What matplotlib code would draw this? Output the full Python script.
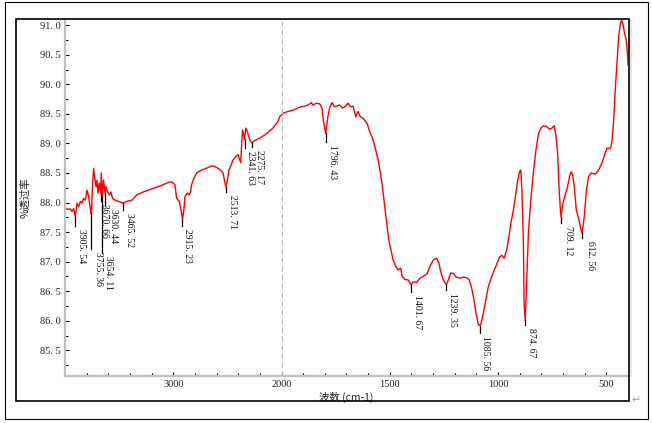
import numpy as np
import matplotlib
matplotlib.use('Agg')
import matplotlib.pyplot as plt
from matplotlib.patches import Rectangle
from matplotlib.ticker import FuncFormatter

# spectrum (wavenumber cm-1, %T)
wavenumber = [
    3998, 3950, 3935, 3920, 3905, 3889, 3874, 3858, 3843, 3828, 3812, 3797,
    3782, 3766, 3756, 3745, 3736, 3727, 3714, 3705, 3696, 3684, 3671, 3665,
    3654, 3644, 3630, 3622, 3607, 3589, 3576, 3561, 3536, 3506, 3465, 3429,
    3383, 3337, 3276, 3214, 3122, 3046, 3015, 2984, 2969, 2945, 2923, 2915,
    2902, 2892, 2871, 2853, 2840, 2831, 2810, 2785, 2739, 2693, 2647, 2616,
    2570, 2540, 2524, 2514, 2503, 2485, 2448, 2417, 2402, 2386, 2377, 2368,
    2360, 2342, 2330, 2316, 2294, 2275, 2248, 2202, 2141, 2080, 2034, 2018,
    1994, 1971, 1948, 1925, 1909, 1894, 1878, 1862, 1855, 1839, 1824, 1813,
    1809, 1802, 1796, 1792, 1786, 1778, 1767, 1755, 1731, 1719, 1708, 1693,
    1682, 1670, 1657, 1647, 1636, 1624, 1605, 1593, 1577, 1565, 1554, 1546,
    1538, 1528, 1520, 1512, 1505, 1495, 1485, 1472, 1462, 1450, 1443, 1431,
    1415, 1402, 1392, 1376, 1361, 1346, 1327, 1315, 1299, 1284, 1273, 1265,
    1253, 1239, 1230, 1219, 1207, 1194, 1176, 1161, 1145, 1133, 1122, 1111,
    1102, 1091, 1085, 1079, 1068, 1057, 1045, 1029, 1014, 994, 983, 972,
    960, 952, 941, 929, 918, 909, 901, 895, 890, 883, 880, 875,
    867, 860, 849, 836, 825, 813, 802, 790, 774, 762, 751, 741,
    733, 725, 718, 710, 700, 690, 679, 670, 663, 656, 648, 639,
    628, 617, 612, 602, 592, 582, 571, 551, 536, 520, 508, 497,
    481, 474, 466, 458, 450, 443, 435, 430, 422, 416, 408, 403, 400,
]
transmittance = [
    87.89, 87.89, 87.85, 87.90, 87.76, 87.99, 87.93, 88.02, 87.99, 88.07, 88.04, 88.21,
    88.10, 87.90, 87.80, 88.33, 88.58, 88.44, 88.27, 88.38, 88.16, 88.33, 88.16, 88.50,
    88.10, 88.38, 88.16, 88.27, 88.18, 88.13, 88.18, 88.07, 88.04, 88.02, 87.99, 88.02,
    88.04, 88.13, 88.18, 88.22, 88.28, 88.34, 88.35, 88.30, 88.07, 88.02, 87.82, 87.71,
    87.88, 88.10, 88.16, 88.13, 88.18, 88.30, 88.41, 88.50, 88.55, 88.58, 88.62, 88.61,
    88.56, 88.50, 88.35, 88.27, 88.35, 88.55, 88.72, 88.79, 88.81, 88.72, 88.68, 89.00,
    89.23, 89.07, 89.26, 89.20, 89.06, 89.01, 89.05, 89.09, 89.16, 89.26, 89.37, 89.45,
    89.51, 89.54, 89.56, 89.60, 89.62, 89.63, 89.65, 89.69, 89.65, 89.68, 89.67, 89.60,
    89.45, 89.28, 89.17, 89.28, 89.45, 89.60, 89.69, 89.62, 89.65, 89.60, 89.62, 89.68,
    89.62, 89.63, 89.45, 89.54, 89.45, 89.43, 89.34, 89.20, 89.06, 88.89, 88.72, 88.55,
    88.38, 88.08, 87.82, 87.59, 87.37, 87.20, 87.03, 86.92, 86.86, 86.89, 86.75, 86.70,
    86.69, 86.61, 86.66, 86.65, 86.72, 86.75, 86.80, 86.92, 87.03, 87.06, 86.97, 86.83,
    86.69, 86.61, 86.69, 86.81, 86.80, 86.74, 86.72, 86.74, 86.73, 86.69, 86.55, 86.35,
    86.13, 85.93, 85.92, 85.95, 86.13, 86.35, 86.58, 86.75, 86.89, 87.07, 87.11, 87.06,
    87.20, 87.37, 87.65, 87.88, 88.16, 88.38, 88.52, 88.55, 88.21, 87.31, 86.30, 86.01,
    86.75, 87.48, 88.04, 88.55, 88.89, 89.17, 89.26, 89.30, 89.28, 89.24, 89.26, 89.30,
    89.14, 88.83, 88.21, 87.76, 87.99, 88.13, 88.27, 88.44, 88.52, 88.48, 88.27, 87.88,
    87.73, 87.54, 87.48, 87.76, 88.21, 88.44, 88.50, 88.48, 88.55, 88.67, 88.81, 88.92,
    88.92, 89.03, 89.40, 89.96, 90.41, 90.81, 91.03, 91.09, 91.00, 90.86, 90.75, 90.55, 90.33,
]

# peak labels
peak_wn = [3905.54, 3755.36, 3670.66, 3654.11, 3630.44, 3465.52, 2915.23, 2513.71,
           2341.63, 2275.17, 1796.43, 1401.67, 1239.35, 1085.56, 874.67, 709.12, 612.56]
peak_top = [87.76, 87.82, 88.16, 88.10, 88.16, 87.99, 87.71, 88.27,
            89.07, 89.01, 89.17, 86.61, 86.61, 85.92, 86.01, 87.76, 87.48]
# layout for the label stems (end of stem in %T) and text x offsets (px)
stem_end = [87.60, 87.22, 88.03, 87.15, 87.94, 87.88, 87.60, 88.18,
            88.92, 88.94, 89.03, 86.49, 86.52, 85.79, 85.93, 87.66, 87.40]
text_dx = [2, 3, -1, 2, 4, 2, 1, 2, 1, 3, 2, 2, 2, 1, 2, 3, 4]

x_major = [3000, 2000, 1500, 1000, 500]
x_minor = [3800, 3600, 3400, 3200, 2800, 2600, 2400, 2200,
           1900, 1800, 1700, 1600, 1400, 1300, 1200, 1100,
           900, 800, 700, 600]
y_major = np.arange(85.5, 91.01, 0.5)
y_minor = np.arange(85.25, 91.1, 0.5)


def fwd(x):
    x = np.asarray(x, dtype=float)
    return np.where(x > 2000, 2000 + (x - 2000) / 2, x)


def inv(u):
    u = np.asarray(u, dtype=float)
    return np.where(u > 2000, 2000 + (u - 2000) * 2, u)


W, H = 652, 423
fig = plt.figure(figsize=(W / 100, H / 100), dpi=100)
ax = fig.add_axes([65 / W, 1 - 376 / H, 563 / W, (376 - 19.3) / H])

ax.set_xscale('function', functions=(fwd, inv))
ax.set_xlim(4000, 400)
ax.set_ylim(85.066, 91.10)

ax.plot(wavenumber, transmittance, color='#ff0000', lw=1.0)
ax.axvline(2000, color='#b4b4b4', lw=0.9, ls=(0, (4, 3)))

num_font = dict(family='Liberation Serif', size=7)
for wn, top, end, dx in zip(peak_wn, peak_top, stem_end, text_dx):
    ax.plot([wn, wn], [top, end], color='black', lw=0.9)
    ax.annotate(f"{wn:.2f}".replace('.', '. '), xy=(wn, end),
                xytext=(dx, -3), textcoords='offset pixels',
                rotation=270, ha='left', va='top', color='#111111', **num_font)

ax.set_xticks(x_major)
ax.set_xticks(x_minor, minor=True)
ax.set_yticks(y_major)
ax.set_yticks(y_minor, minor=True)
ax.xaxis.set_major_formatter(FuncFormatter(lambda v, p: f"{v:.0f}"))
ax.yaxis.set_major_formatter(FuncFormatter(lambda v, p: f"{v:.1f}".replace('.', '. ')))
ax.tick_params(which='both', direction='in', color='black', width=0.8,
               labelsize=7.5, labelcolor='#222222')
ax.tick_params(which='major', length=3)
ax.tick_params(which='minor', length=2)
ax.tick_params(axis='y', pad=3)
ax.tick_params(axis='x', pad=3)
for lab in ax.get_xticklabels() + ax.get_yticklabels():
    lab.set_family('Liberation Serif')

for side in ['top', 'right']:
    ax.spines[side].set_visible(False)
for side in ['left', 'bottom']:
    ax.spines[side].set_color('#c0c0c0')
    ax.spines[side].set_linewidth(1.6)

cjk = ['Noto Sans CJK SC', 'DejaVu Sans']
ax.set_xlabel('波数 (cm-1)', family=cjk, fontsize=7.5, color='#222222', labelpad=2)
ax.set_ylabel('%透过率', family=cjk, fontsize=7.5, color='#222222', labelpad=7)

# page frames around the chart
fig.add_artist(Rectangle((16 / W, 1 - 401 / H), 613 / W, 382 / H,
                         transform=fig.transFigure, fill=False, ec='black', lw=1.2))
fig.add_artist(Rectangle((5 / W, 1 - 419 / H), 643 / W, 416.5 / H,
                         transform=fig.transFigure, fill=False, ec='black', lw=0.8))
fig.add_artist(plt.Line2D([631 / W, 631 / W], [1 - 376 / H, 1 - 20 / H],
                          transform=fig.transFigure, color='#e0e0e0', lw=1.2))
fig.text(636 / W, 1 - 400 / H, '\u21b5', fontsize=8, color='#a0a0a0',
         ha='center', va='center')

fig.savefig('out.png', dpi=100)
